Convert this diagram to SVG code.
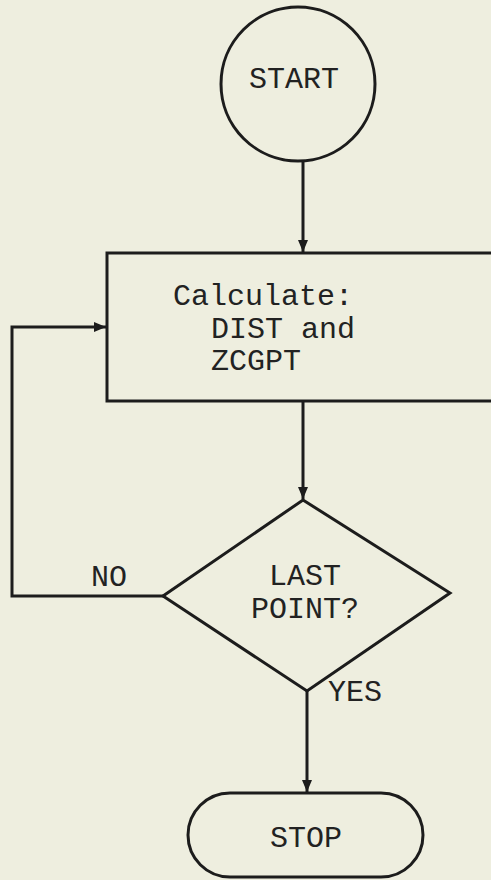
<svg xmlns="http://www.w3.org/2000/svg" width="491" height="880" viewBox="0 0 491 880">
<style>
.shape{fill:none;stroke:#1c1c1c;stroke-width:3;stroke-linejoin:miter}
.conn{fill:none;stroke:#1c1c1c;stroke-width:3}
.t{font-family:"Liberation Mono","Courier New",monospace;font-size:30px;fill:#222}
.c{text-anchor:middle}
</style>
<defs>
<marker id="ah" viewBox="0 0 12 10" refX="12" refY="5" markerWidth="12" markerHeight="10" markerUnits="userSpaceOnUse" orient="auto">
<path d="M0,0 L12,5 L0,10 Z" fill="#1c1c1c"/>
</marker>
</defs>
<rect x="0" y="0" width="491" height="880" fill="#eeeedf"/>
<g id="connectors">
<line class="conn" x1="303" y1="162" x2="303" y2="252" marker-end="url(#ah)"/>
<line class="conn" x1="303" y1="402" x2="303" y2="499" marker-end="url(#ah)"/>
<line class="conn" x1="307" y1="691" x2="307" y2="792" marker-end="url(#ah)"/>
<polyline class="conn" points="163,596 12,596 12,327 106,327" marker-end="url(#ah)"/>
<text class="t" x="91" y="586">NO</text>
<text class="t" x="328" y="701">YES</text>
</g>
<g id="start">
<circle class="shape" cx="298" cy="84" r="77"/>
<text class="t c" x="294" y="88">START</text>
</g>
<g id="calculate">
<rect class="shape" x="107" y="253" width="420" height="148"/>
<text class="t" x="173" y="305">Calculate:</text>
<text class="t" x="211" y="338">DIST and</text>
<text class="t" x="211" y="370">ZCGPT</text>
</g>
<g id="lastpoint">
<polygon class="shape" points="303,500 450,593 307,691 163,596"/>
<text class="t c" x="305" y="585">LAST</text>
<text class="t c" x="305" y="618">POINT?</text>
</g>
<g id="stop">
<rect class="shape" x="188" y="793" width="235" height="84" rx="42" ry="42"/>
<text class="t c" x="306" y="847">STOP</text>
</g>
</svg>
